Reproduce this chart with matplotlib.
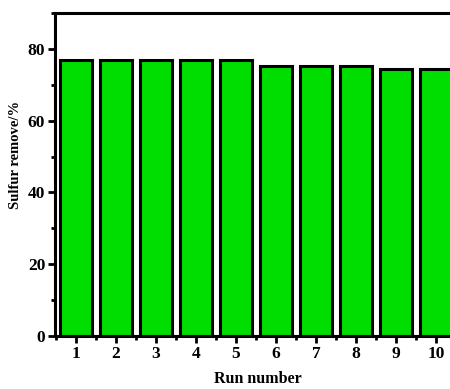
import numpy as np
import matplotlib.pyplot as plt
from matplotlib.ticker import MultipleLocator

plt.rcParams['font.family'] = ['Liberation Serif', 'DejaVu Serif']
plt.rcParams['font.weight'] = 'bold'

# data
runs = [1, 2, 3, 4, 5, 6, 7, 8, 9, 10]
sulfur_removal = [77, 77, 77, 77, 77, 75.3, 75.3, 75.3, 74.4, 74.4]

fig = plt.figure(figsize=(4.5, 3.89), dpi=100)
# axes run past the right edge of the picture, as in the original
ax = fig.add_axes([0.122, 0.136, 0.9, 0.831])

ax.bar(runs, sulfur_removal, width=0.8, color="#00dd00",
       edgecolor="black", linewidth=2.2)

ax.set_xlim(0.475, 10.6)
ax.set_ylim(0, 90)
ax.set_xticks(runs)
ax.xaxis.set_minor_locator(MultipleLocator(0.5))
ax.yaxis.set_major_locator(MultipleLocator(20))
ax.yaxis.set_minor_locator(MultipleLocator(10))

for s in ax.spines.values():
    s.set_linewidth(2.2)

ax.tick_params(which="major", direction="out", length=5, width=2,
               labelsize=12.5, pad=2)
ax.tick_params(which="minor", direction="out", length=3, width=2)

ax.set_xlabel("Run number", fontsize=11.5, fontweight="bold")
ax.set_ylabel("Sulfur remove/%", fontsize=10.5, fontweight="bold")
ax.xaxis.set_label_coords(0.5, -0.108)
ax.yaxis.set_label_coords(-0.08, 0.56)

fig.savefig("out.png", dpi=100)
plt.close()
